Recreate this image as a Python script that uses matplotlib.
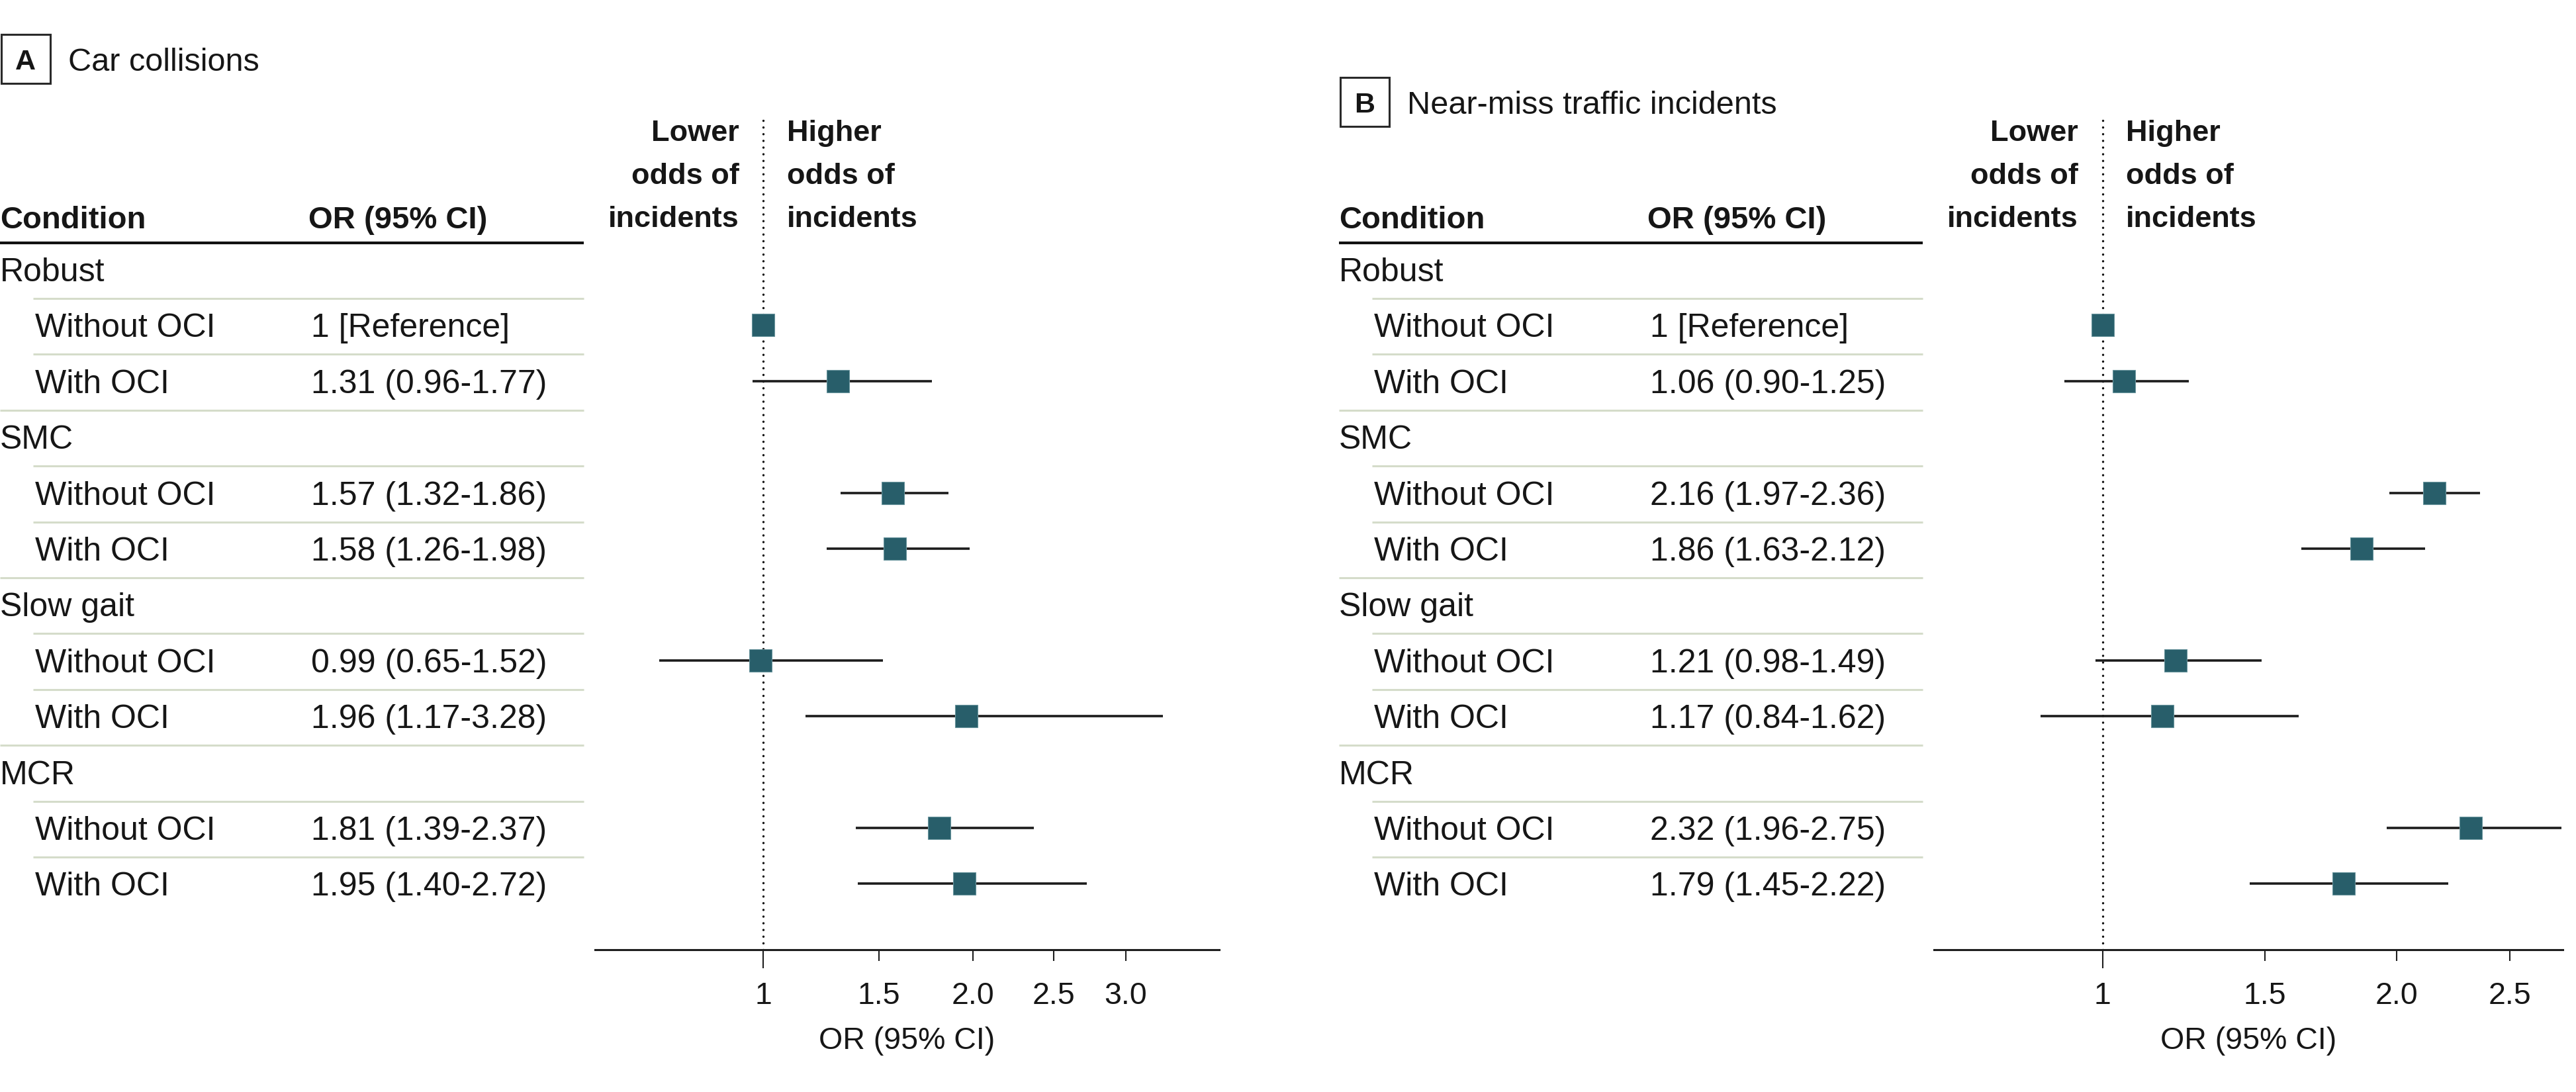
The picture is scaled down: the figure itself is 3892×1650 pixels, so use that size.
import numpy as np
import matplotlib
matplotlib.use("Agg")
import matplotlib.pyplot as plt
from matplotlib.patches import Rectangle

plt.rcParams['font.family'] = ['Liberation Sans', 'DejaVu Sans']

# ---------------- data ----------------
groups = ["Robust", "SMC", "Slow gait", "MCR"]
subgroups = ["Without OCI", "With OCI"]
panel_letters = ["A", "B"]
panel_titles = ["Car collisions", "Near-miss traffic incidents"]

car_or = [1.00, 1.31, 1.57, 1.58, 0.99, 1.96, 1.81, 1.95]
car_lo = [np.nan, 0.96, 1.32, 1.26, 0.65, 1.17, 1.39, 1.40]
car_hi = [np.nan, 1.77, 1.86, 1.98, 1.52, 3.28, 2.37, 2.72]

near_or = [1.00, 1.06, 2.16, 1.86, 1.21, 1.17, 2.32, 1.79]
near_lo = [np.nan, 0.90, 1.97, 1.63, 0.98, 0.84, 1.96, 1.45]
near_hi = [np.nan, 1.25, 2.36, 2.12, 1.49, 1.62, 2.75, 2.22]

car_ticks = [1.5, 2.0, 2.5, 3.0]
near_ticks = [1.5, 2.0, 2.5]
ref_label = "1 [Reference]"

# ---------------- layout ----------------
W, H = 3892, 1650
ROW0, PITCH = 407, 84.4
TXT = '#161616'
SEP = '#d5dcca'
SQ = '#285e6a'
FS = 36


def row_y(i):
    return ROW0 + PITCH * i


def fwd(x):
    return np.power(np.clip(x, 1e-9, None), 0.4)


def inv(g):
    return np.power(np.clip(g, 0, None), 2.5)


fig = plt.figure(figsize=(W / 100, H / 100), dpi=100)
bg = fig.add_axes([0, 0, 1, 1])
bg.set_xlim(0, W)
bg.set_ylim(H, 0)
bg.axis('off')

panels = [
    dict(x0=0, ty=89, ors=car_or, los=car_lo, his=car_hi, ticks=car_ticks,
         xlim=(0.4776, 3.736), right=1842),
    dict(x0=2023, ty=153.5, ors=near_or, los=near_lo, his=near_hi, ticks=near_ticks,
         xlim=(0.603, 2.756), right=3872),
]

for p, letter, title in zip(panels, panel_letters, panel_titles):
    x0, ty = p['x0'], p['ty']
    # title box
    bg.add_patch(Rectangle((x0 + 1.5, ty - 37), 74, 74, fill=False,
                           edgecolor='#2a2a2a', lw=2.2, clip_on=False))
    bg.text(x0 + 38.5, ty + 16, letter, fontsize=31, weight='bold',
            ha='center', va='baseline', color=TXT)
    bg.text(x0 + 103, ty + 18, title, fontsize=35, ha='left',
            va='baseline', color=TXT)

    # table header
    bg.text(x0, 345, "Condition", fontsize=34, weight='bold', va='baseline', color=TXT)
    bg.text(x0 + 466, 345, "OR (95% CI)", fontsize=34, weight='bold', va='baseline', color=TXT)
    bg.plot([x0, x0 + 882], [367, 367], color='#111111', lw=3, solid_capstyle='butt')

    # rows
    rows = []
    for g, name in enumerate(groups):
        bg.text(x0, row_y(3 * g) + 18, name, fontsize=FS, va='baseline', color=TXT)
        for s, sub in enumerate(subgroups):
            k = 2 * g + s
            r = 3 * g + 1 + s
            rows.append(r)
            bg.text(x0 + 53, row_y(r) + 18, sub, fontsize=FS, va='baseline', color=TXT)
            o, lo, hi = p['ors'][k], p['los'][k], p['his'][k]
            lab = ref_label if np.isnan(lo) else f"{o:.2f} ({lo:.2f}-{hi:.2f})"
            bg.text(x0 + 470, row_y(r) + 18, lab, fontsize=FS, va='baseline', color=TXT)
    for j in range(3 * len(groups) - 1):
        xs = x0 if j % 3 == 2 else x0 + 50
        y = row_y(j) + 44
        bg.plot([xs, x0 + 882], [y, y], color=SEP, lw=2.2, solid_capstyle='butt')

    # direction labels
    for yb, lw_, hw_ in zip([213, 278, 343], ["Lower", "odds of", "incidents"],
                            ["Higher", "odds of", "incidents"]):
        bg.text(x0 + 1116.5, yb, lw_, fontsize=32.5, weight='bold', ha='right',
                va='baseline', color=TXT)
        bg.text(x0 + 1189, yb, hw_, fontsize=32.5, weight='bold', ha='left',
                va='baseline', color=TXT)

    # forest axes
    left = x0 + 899
    ax = fig.add_axes([left / W, (H - 1435) / H, (p['right'] - left) / W, (1435 - 180) / H])
    ax.patch.set_alpha(0)
    ax.set_xscale('function', functions=(fwd, inv))
    ax.set_xlim(*p['xlim'])
    ax.set_ylim((1435 - ROW0) / PITCH, (180 - ROW0) / PITCH)
    for sp in ['top', 'left', 'right']:
        ax.spines[sp].set_visible(False)
    ax.spines['bottom'].set_linewidth(2.2)
    ax.spines['bottom'].set_color('#1e1e1e')
    ax.yaxis.set_visible(False)
    ax.set_xticks([1], labels=['1'])
    ax.set_xticks(p['ticks'], labels=[f"{t:.1f}" for t in p['ticks']], minor=True)
    ax.tick_params(axis='x', which='major', length=20, width=1.5, pad=14.5,
                   labelsize=33.5, color='#1e1e1e', labelcolor=TXT)
    ax.tick_params(axis='x', which='minor', length=12, width=1.5, pad=22.5,
                   labelsize=33.5, color='#1e1e1e', labelcolor=TXT)
    ax.axvline(1, color='#111111', lw=2.5, linestyle=(0, (0.01, 2.9)),
               dash_capstyle='round', zorder=1)
    for r, o, lo, hi in zip(rows, p['ors'], p['los'], p['his']):
        if not np.isnan(lo):
            ax.plot([lo, hi], [r, r], color='#1c1c1c', lw=2.6, zorder=2,
                    solid_capstyle='butt')
        ax.plot([o], [r], marker='s', ms=24, color=SQ, mec='#6a959e', mew=0.8,
                zorder=3, clip_on=False)
    ax.text(0.5, (1435 - 1573) / (1435 - 180), "OR (95% CI)", transform=ax.transAxes,
            ha='center', va='center', fontsize=33.5, color=TXT)

fig.savefig("out.png", dpi=100)
